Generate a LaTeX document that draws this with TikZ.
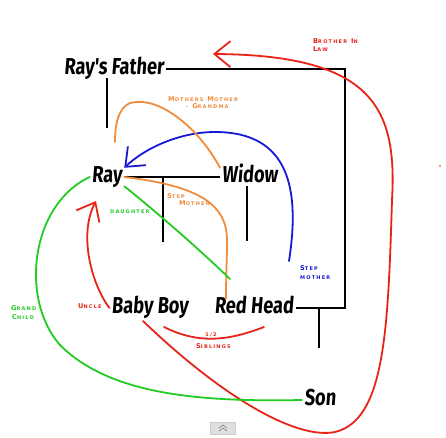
\documentclass[tikz,border=0pt]{standalone}
\usepackage{fontspec}
\usetikzlibrary{arrows.meta,calc}
\newfontfamily\handfont{Fira Sans}[FakeStretch=0.79,FakeSlant=0.08]
\newfontfamily\labfont{DejaVu Sans}[LetterSpace=24]
\newcommand\Cp[1]{{\fontsize{6.6}{6.8}\selectfont #1}}
\newcommand\Wsp{\hspace{4pt}}
\definecolor{cred}{RGB}{232,36,24}
\definecolor{cgreen}{RGB}{34,204,34}
\definecolor{corange}{RGB}{240,140,60}
\definecolor{cblue}{RGB}{24,24,215}
\tikzset{
  person/.style={font=\handfont\bfseries\fontsize{23}{23}\selectfont, inner xsep=2pt, inner ysep=0pt, text height=14pt, text depth=4pt},
  blk/.style={draw=black, line width=2pt},
  curve/.style={line width=1.8pt, line cap=round},
  barb/.style={-{Straight Barb[length=16pt,width=26pt]}},
  lab/.style={font=\labfont\bfseries\fontsize{5}{6}\selectfont, anchor=base west, inner sep=0pt}
}
\begin{document}
\begin{tikzpicture}[x=1pt,y=-1pt]
\useasboundingbox[fill=white] (0,0) rectangle (446,437);
% people
\node[person] (rf) at (114,69) {Ray's Father};
\node[person] (ray) at (107,177) {Ray};
\node[person] (widow) at (250,177) {Widow};
\node[person] (bb) at (150,308) {Baby Boy};
\node[person] (rh) at (254,308) {Red Head};
\node[person] (son) at (320,400) {Son};
% black family lines
\coordinate (tr) at (345,69);
\coordinate (br) at (345,308);
\draw[blk] (rf.east) -- (tr) -- (br) -- (rh.east);
\coordinate (rfd) at (107,128);
\draw[blk] (rf.south -| rfd) -- (rfd);
\draw[blk] (ray.east) -- (widow.west);
\coordinate (m1) at (163,177);
\coordinate (m1b) at (163,242);
\draw[blk] (m1) -- (m1b);
\coordinate (wd) at (247,241);
\draw[blk] (widow.south -| wd) -- (wd);
\coordinate (rhd1) at (319,308);
\coordinate (rhd2) at (319,348);
\draw[blk] (rhd1) -- (rhd2);
% red brother in law
\coordinate (bil) at (213,54);
\draw[curve, cred, barb] (143,321) .. controls (220,395) and (295,440) .. (335,432)
  .. controls (385,420) and (388,330) .. (392,200)
  .. controls (397,110) and (375,55) .. (bil);
% red uncle
\coordinate (unc) at (96,201);
\draw[curve, cred, barb] (bb.west) .. controls (92,285) and (78,235) .. (unc);
% red siblings
\draw[curve, cred] (164,327) .. controls (200,345) and (230,340) .. (264,327);
% blue step mother
\draw[curve, cblue, barb] (289,261) .. controls (300,190) and (290,132) .. (215,132)
  .. controls (180,132) and (145,148) .. (ray.north east);
% orange grandma
\draw[curve, corange] (widow.north west) .. controls (200,130) and (160,95) .. (130,103)
  .. controls (118,108) and (115,125) .. (115,142);
% orange step mother
\draw[curve, corange] (ray.east) .. controls (200,186) and (227,205) .. (227,240)
  .. controls (227,262) and (226,272) .. (rh.north -| 226,0);
% green daughter
\draw[curve, cgreen] (ray.south east) .. controls (160,215) and (200,250) .. (230,279);
% green grand child
\draw[curve, cgreen] (ray.west) .. controls (30,205) and (20,300) .. (60,345)
  .. controls (110,395) and (200,402) .. (son.west);
% labels
\node[lab, cred] (l1) at (313,43) {\Cp{B}ROTHER\Wsp\Cp{I}N};
\node[lab, cred] (l2) at (313,51) {\Cp{L}AW};
\node[lab, corange] (l3) at (168,101) {\Cp{M}OTHERS\Wsp\Cp{M}OTHER};
\node[lab, corange] (l4) at (186,108) {-\Wsp\Cp{G}RANDMA};
\node[lab, corange] (l5) at (167,198) {\Cp{S}TEP};
\node[lab, corange] (l6) at (179,205) {\Cp{M}OTHER};
\node[lab, cgreen] (l7) at (110,213) {DAUGHTER};
\node[lab, cblue] (l8) at (300,270) {\Cp{S}TEP};
\node[lab, cblue] (l9) at (300,279) {MOTHER};
\node[lab, cred] (l10) at (78,308) {\Cp{U}NCLE};
\node[lab, cgreen] (l11) at (11,310) {\Cp{G}RAND};
\node[lab, cgreen] (l12) at (12,319) {\Cp{C}HILD};
\node[lab, cred, anchor=base] (l13) at (211,336) {1/2};
\node[lab, cred] (l14) at (196,348) {\Cp{S}IBLINGS};
% small dot and button
\fill[cred] (440,166) circle (0.8);
\node[draw=gray!40, fill=gray!25, minimum width=25pt, minimum height=12pt, inner sep=0pt] (btn) at (223,428) {};
\draw[gray, line width=0.6pt] (219,428) -- (223,425) -- (227,428) (219,431) -- (223,428) -- (227,431);
\end{tikzpicture}
\end{document}
